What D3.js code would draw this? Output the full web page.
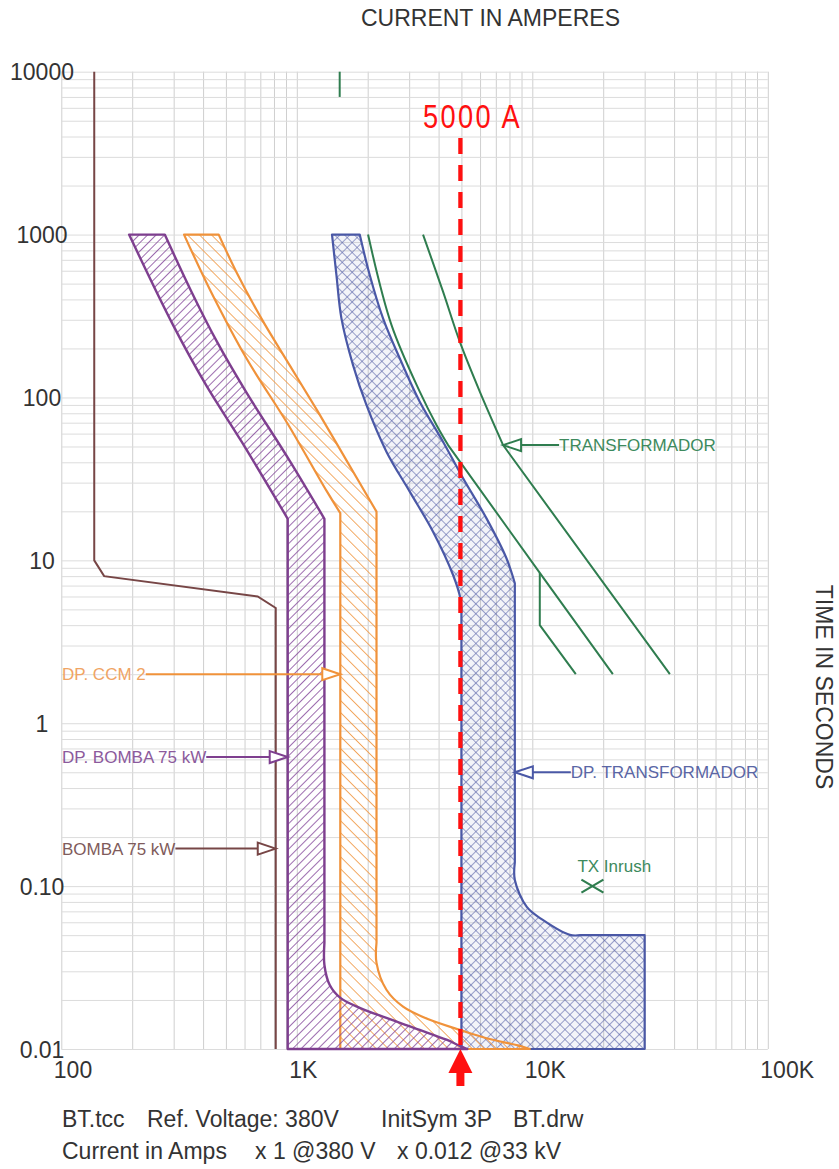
<!DOCTYPE html>
<html><head><meta charset="utf-8">
<script src="https://cdn.jsdelivr.net/npm/d3@7"></script>
<style>
html,body{margin:0;padding:0;background:#fff;}
svg{display:block;font-family:"Liberation Sans",Arial,Helvetica,sans-serif;}
</style></head><body>
<svg id="chart" width="839" height="1169"></svg>
<script>
// ---------------- data ----------------
const xTickValues = [100, 1000, 10000, 100000];
const xTickLabels = ["100", "1K", "10K", "100K"];
const yTickValues = [10000, 1000, 100, 10, 1, 0.1, 0.01];
const yTickLabels = ["10000", "1000", "100", "10", "1", "0.10", "0.01"];
const gridMultipliers = [1, 2, 3, 4, 5, 6, 7, 8, 9];
const xDecades = [100, 1000, 10000];
const yDecades = [0.01, 0.1, 1, 10, 100, 1000];

// [current A, time s]
const bombaMotor = [[138,10000],[138,10],[152,8],[682,6],[814,5.1],[814,0.01]];

const dpBombaMin = [[194,1000],[298,279],[412,119],[583,53.5],[915,18]];
const dpBombaMinFloor = [[915,18],[915,0.01],[5300,0.01]];
const dpBombaMax = [[275,1000],[357,446],[458,220],[608,108.6],[918,42.4],[1310,18]];
const dpBombaToe = [[1310,0.045],[1310,0.0328],[1380,0.0247],[1531,0.0206],[1850,0.0179],[2402,0.0155],[3327,0.0131],[4321,0.0114],[4921,0.01045],[5300,0.01]];

const dpCcmMin = [[332,1000],[432,446],[611,174],[921,67.8],[1344,26.4],[1530,19.5]];
const dpCcmMinFloor = [[1530,19.5],[1530,0.01],[9760,0.01]];
const dpCcmMax = [[466,1000],[553,592],[707,306],[932,158],[1229,81.8],[1637,40.4],[2180,19.9]];
const dpCcmToe = [[2180,0.045],[2180,0.0338],[2402,0.0231],[2826,0.0182],[3669,0.0151],[4921,0.0131],[6390,0.01165],[8851,0.01045],[9760,0.01]];

const dpTrafoMin = [[1411,1000],[1473,565],[1547,306],[1733,158],[1975,90],[2402,46.5],[3017,26.4],[3789,15],[4609,8.13],[4950,5.85],[5000,5.0]];
const dpTrafoMinFloor = [[5000,5.0],[5000,0.01],[30000,0.01],[30000,0.05],[16000,0.05]];
const dpTrafoMax = [[1850,1000],[2040,565],[2324,306],[2736,174],[3327,94.2],[4178,53.5],[5082,31.9],[6390,18.1],[7766,10.3],[8430,7.24]];
const dpTrafoToe = [[8430,0.14],[8430,0.109],[9476,0.0745],[11080,0.062],[14430,0.0502],[16000,0.05]];

const trafoCurveA = [[2007,1000],[2523,279],[3327,108.6],[3918,67.8],[4390,51]];
const trafoCurveATail = [[4390,51],[10760,8.37],[21980,2]];
const trafoCurveB = [[10760,8.37],[10760,4],[15300,2]];
const trafoCurveC = [[3436,1000],[4178,446],[4921,220],[5984,108.6],[7516,51]];
const trafoCurveCTail = [[7516,51],[38380,2]];
const trafoMark = [[1521,10000],[1521,7000]];
const txInrush = [18000, 0.1];

const faultCurrent = 5000;
const faultLabel = "5000 A";

const annotations = [
  {text:"DP. CCM 2",          at:[1530,2],    side:"left",  color:"#f0a464", stroke:"#f0923a"},
  {text:"DP. BOMBA 75 kW",    at:[915,0.62],  side:"left",  color:"#8c5a9c", stroke:"#7e3f8f"},
  {text:"BOMBA 75 kW",        at:[814,0.17],  side:"left",  color:"#7f5b5b", stroke:"#774646"},
  {text:"DP. TRANSFORMADOR",  at:[8430,0.5],  side:"right", color:"#5a66a5", stroke:"#4a58a6"},
  {text:"TRANSFORMADOR",      at:[7516,51],   side:"right", color:"#3d8a5d", stroke:"#2f7d4f"}
];

const titleText = "CURRENT IN AMPERES";
const yTitleText = "TIME IN SECONDS";
const footer1 = ["BT.tcc", "Ref. Voltage: 380V", "InitSym 3P", "BT.drw"];
const footer2 = ["Current in Amps", "x 1 @380 V", "x 0.012 @33 kV"];

// ---------------- layout ----------------
const plot = {left:61.3, right:767.8, top:71.7, bottom:1049};
const footer1X = [62, 147, 381, 513];
const footer2X = [62, 255, 397];

const svg = d3.select("#chart");
svg.append("rect").attr("width",839).attr("height",1169).attr("fill","#fff");

const x = d3.scaleLog().domain([100,100000]).range([plot.left, plot.right]);
const y = d3.scaleLog().domain([0.01,10000]).range([plot.bottom, plot.top]);

// patterns
const defs = svg.append("defs");
function hatch(id, angle, spacing, color, width){
  const p = defs.append("pattern").attr("id",id).attr("patternUnits","userSpaceOnUse")
    .attr("width",spacing).attr("height",spacing).attr("patternTransform",`rotate(${angle})`);
  p.append("line").attr("x1",0).attr("y1",0).attr("x2",0).attr("y2",spacing)
    .attr("stroke",color).attr("stroke-width",width);
}
hatch("hPurple", 45, 6, "#84479a", 1.6);
hatch("hOrange", -45, 8.5, "#f0953f", 1.6);
hatch("hBlueA", 45, 7, "#5863a8", 1.2);
hatch("hBlueB", -45, 7, "#5863a8", 1.2);

// grid
const gridX = xDecades.flatMap(d => gridMultipliers.map(m => d*m)).concat([100000]);
const gridY = yDecades.flatMap(d => gridMultipliers.map(m => +(d*m).toPrecision(6))).concat([10000]);
svg.append("g").attr("transform",`translate(0,${plot.bottom})`)
  .call(d3.axisBottom(x).tickValues(gridX).tickSize(-(plot.bottom-plot.top)).tickFormat(""))
  .call(g => g.select(".domain").remove())
  .call(g => g.selectAll("line").attr("stroke","#cfcfcf").attr("stroke-width",1));
svg.append("g").attr("transform",`translate(${plot.left},0)`)
  .call(d3.axisLeft(y).tickValues(gridY).tickSize(-(plot.right-plot.left)).tickFormat(""))
  .call(g => g.select(".domain").remove())
  .call(g => g.selectAll("line").attr("stroke","#dcdcdc").attr("stroke-width",1));

// tick labels
svg.append("g").attr("transform",`translate(0,${plot.bottom})`)
  .call(d3.axisBottom(x).tickValues(xTickValues).tickSize(0).tickFormat((d,i)=>xTickLabels[i]))
  .call(g => g.select(".domain").remove())
  .call(g => g.selectAll("text").attr("y",29).attr("dy",0).attr("dx",-8)
      .attr("text-anchor","start").attr("font-size",23).attr("fill","#333")
      .attr("font-family",'"Liberation Sans",Arial,sans-serif'));
svg.append("g").attr("transform",`translate(${plot.left},0)`)
  .call(d3.axisLeft(y).tickValues(yTickValues).tickSize(0).tickFormat((d,i)=>yTickLabels[i]))
  .call(g => g.select(".domain").remove())
  .call(g => g.selectAll("text").attr("x",42-plot.left).attr("dy","0.36em")
      .attr("text-anchor","middle").attr("font-size",23).attr("fill","#333")
      .attr("font-family",'"Liberation Sans",Arial,sans-serif'));

// path helpers
function seg(points, smooth){
  return d3.line().x(d=>x(d[0])).y(d=>y(d[1]))
    .curve(smooth ? d3.curveCatmullRom.alpha(0.5) : d3.curveLinear)(points);
}
function join(parts, close){
  return parts.map((p,i)=> i===0 ? p : p.replace(/^M/,"L")).join("") + (close ? "Z" : "");
}
const rev = a => a.slice().reverse();

function band(minC, minFloor, toe, maxC, fills, stroke, sw){
  const d = join([seg(minC,true), seg(minFloor,false), seg(rev(toe),true), seg(rev(maxC),true)], true);
  fills.forEach(f => svg.append("path").attr("d",d).attr("fill",f).attr("stroke","none"));
  return svg.append("path").attr("d",d).attr("fill","none").attr("stroke",stroke)
    .attr("stroke-width",sw).attr("stroke-linejoin","round");
}

// DP. TRANSFORMADOR band
band(dpTrafoMin, dpTrafoMinFloor, dpTrafoToe, dpTrafoMax,
     ["rgba(80,95,170,0.07)","url(#hBlueA)","url(#hBlueB)"], "#4a58a6", 2.2);
// DP. CCM 2 band
band(dpCcmMin, dpCcmMinFloor, dpCcmToe, dpCcmMax, ["url(#hOrange)"], "#f0923a", 2.2);
// DP. BOMBA band
band(dpBombaMin, dpBombaMinFloor, dpBombaToe, dpBombaMax, ["url(#hPurple)"], "#7e3f8f", 2.4);

// motor curve
svg.append("path").attr("d", seg(bombaMotor,false)).attr("fill","none")
  .attr("stroke","#774646").attr("stroke-width",2);

// transformer damage curves
const green = "#2f7d4f";
[join([seg(trafoCurveA,true), seg(trafoCurveATail,false)]),
 seg(trafoCurveB,false),
 join([seg(trafoCurveC,true), seg(trafoCurveCTail,false)]),
 seg(trafoMark,false)].forEach(d =>
  svg.append("path").attr("d",d).attr("fill","none").attr("stroke",green).attr("stroke-width",2));

// TX inrush marker
const ix = x(txInrush[0]), iy = y(txInrush[1]);
svg.append("path").attr("d",`M${ix-11},${iy-6.5}L${ix+11},${iy+6.5}M${ix-11},${iy+6.5}L${ix+11},${iy-6.5}`)
  .attr("stroke",green).attr("stroke-width",2.2).attr("fill","none");
svg.append("text").attr("x",ix-15).attr("y",iy-14.5).attr("font-size",17)
  .attr("fill","#3d8a5d").text("TX Inrush");

// annotations
annotations.forEach(a => {
  const tx = x(a.at[0]), ty = y(a.at[1]);
  const g = svg.append("g");
  if (a.side === "left") {
    const t = g.append("text").attr("x",62).attr("y",ty).attr("dy","0.35em")
      .attr("font-size",17).attr("fill",a.color).text(a.text);
    const end = 62 + t.node().getComputedTextLength();
    g.append("line").attr("x1",end).attr("x2",tx-18).attr("y1",ty).attr("y2",ty)
      .attr("stroke",a.stroke).attr("stroke-width",2);
    g.append("path").attr("d",`M${tx},${ty}L${tx-18},${ty-6}L${tx-18},${ty+6}Z`)
      .attr("fill","#fff").attr("stroke",a.stroke).attr("stroke-width",2);
  } else {
    g.append("line").attr("x1",tx+18).attr("x2",tx+56).attr("y1",ty).attr("y2",ty)
      .attr("stroke",a.stroke).attr("stroke-width",2);
    g.append("path").attr("d",`M${tx},${ty}L${tx+18},${ty-6}L${tx+18},${ty+6}Z`)
      .attr("fill","#fff").attr("stroke",a.stroke).attr("stroke-width",2);
    g.append("text").attr("x",tx+56).attr("y",ty).attr("dy","0.35em")
      .attr("font-size",17).attr("fill",a.color).text(a.text);
  }
});

// fault current marker
const fx = x(faultCurrent) - 1;
svg.append("line").attr("x1",fx).attr("x2",fx).attr("y1",138).attr("y2",plot.bottom)
  .attr("stroke","#ff1010").attr("stroke-width",4.3).attr("stroke-dasharray","16,11");
svg.append("path").attr("d",`M${fx},${plot.bottom}L${fx+12},${plot.bottom+24}L${fx+4},${plot.bottom+24}L${fx+4},${plot.bottom+37}L${fx-4},${plot.bottom+37}L${fx-4},${plot.bottom+24}L${fx-12},${plot.bottom+24}Z`)
  .attr("fill","#ff1010");
svg.append("text").attr("transform","translate(423,128) scale(0.8,1)").attr("font-size",34)
  .attr("letter-spacing",3).attr("fill","#ff1010").text(faultLabel);

// titles
svg.append("text").attr("x",490.5).attr("y",26).attr("text-anchor","middle")
  .attr("font-size",23).attr("fill","#333").text(titleText);
svg.append("text").attr("transform","translate(816,687) rotate(90)").attr("text-anchor","middle")
  .attr("font-size",23).attr("fill","#333").text(yTitleText);

// footer
footer1.forEach((s,i)=> svg.append("text").attr("x",footer1X[i]).attr("y",1127)
  .attr("font-size",23).attr("fill","#333").text(s));
footer2.forEach((s,i)=> svg.append("text").attr("x",footer2X[i]).attr("y",1159)
  .attr("font-size",23).attr("fill","#333").text(s));
</script>
</body></html>
